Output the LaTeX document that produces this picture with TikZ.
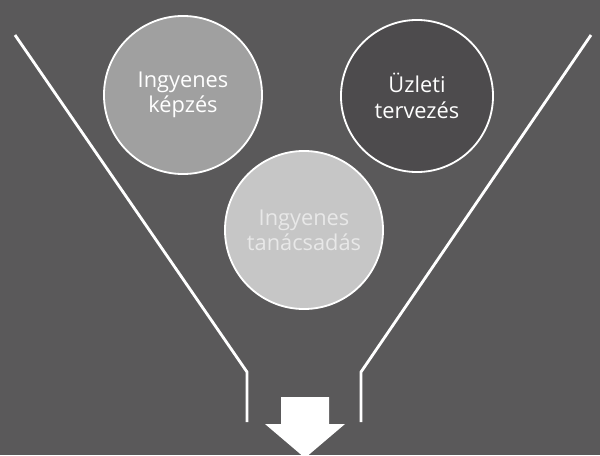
\documentclass[tikz,border=0pt]{standalone}
\usepackage{fontspec}
\setmainfont{Open Sans}
\usetikzlibrary{positioning}
\definecolor{Board}{HTML}{5A595A}
\definecolor{BoardDark}{HTML}{4D4B4D}
\definecolor{Mid}{HTML}{A0A0A0}
\definecolor{Pale}{HTML}{C6C6C6}
\definecolor{PaleText}{HTML}{E8E8E8}
\tikzset{
  bubble/.style={circle,draw=white,line width=1.3pt,minimum size=3.95cm,
    inner sep=0pt,align=center,text=white,font=\fontsize{15.5}{18}\selectfont},
  funnel/.style={white,line width=2pt,line join=miter}
}

\begin{document}
\begin{tikzpicture}[x=0.025cm,y=-0.025cm]
        \path[fill=Board] (0,0) rectangle (600,455);
        \useasboundingbox (0,0) rectangle (600,455);
        % funnel walls
        \draw[funnel] (15,35) -- (247,372) -- (247,422);
        \draw[funnel] (591,35) -- (361,372) -- (361,422);
        % bubbles
        \node[bubble,fill=Mid] (training) at (183,95) {Ingyenes\\képzés};
        \node[bubble,fill=BoardDark,minimum size=3.8cm] (planning) at (417,96) {Üzleti\\tervezés};
        \node[bubble,fill=Pale,text=PaleText] (advice) at (304,230) {Ingyenes\\tanácsadás};
        % outlet arrow
        \path[fill=white] (281,397) -- (329,397) -- (329,424) -- (345,424)
          -- (305,458) -- (265,424) -- (281,424) -- cycle;
      \end{tikzpicture}
\end{document}
